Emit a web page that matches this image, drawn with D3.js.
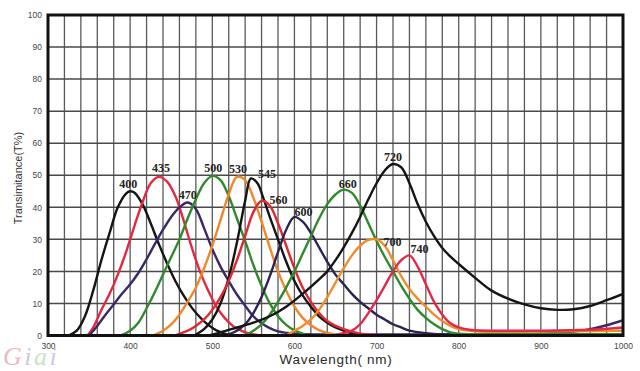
<!DOCTYPE html>
<html>
<head>
<meta charset="utf-8">
<script src="https://cdn.jsdelivr.net/npm/d3@7"></script>
<style>
  html, body { margin: 0; padding: 0; background: #fff; }
  svg { display: block; }
</style>
</head>
<body>
<div id="chart"></div>
<script>
// Tick labels
const xTicks = [300, 400, 500, 600, 700, 800, 900, 1000];
const yTicks = [0, 10, 20, 30, 40, 50, 60, 70, 80, 90, 100];
const xGridStep = 20;

// Transmittance curves, [wavelength nm, T%]
const s400 = [[325,0],[335,1.5],[345,6],[355,14],[365,23.5],[375,32],[385,40],[395,44.3],[400,45],[405,44.6],[415,41],[425,35],[435,28.5],[445,22.5],[455,17],[465,12.5],[475,8.7],[485,5.7],[495,3.3],[505,1.6],[515,0.6],[525,0]];
const s435 = [[348,0],[355,2.5],[365,8],[375,13],[385,19],[395,26],[405,34],[415,41.5],[425,47.5],[435,49.5],[445,48],[455,43.5],[465,36],[475,27.5],[485,20],[495,14],[505,9],[515,5.5],[525,3],[535,1.5],[545,0.6],[560,0]];
const s470 = [[350,0],[360,3],[370,6.5],[380,9.7],[390,13],[400,16],[410,19.5],[420,23.8],[430,28.5],[440,33],[450,37],[460,40],[470,41.5],[480,39.5],[490,33.5],[500,27],[510,21.5],[520,17],[530,12.8],[540,9.3],[550,6],[560,3.8],[570,2.3],[580,1.3],[600,0.6],[640,0.3],[700,0.3],[800,0.4],[900,0.6],[940,1.2],[960,2],[980,3.2],[1000,4.8]];
const s500 = [[388,0],[400,1.5],[410,4],[420,8.5],[430,13.5],[440,19],[450,24.5],[460,30],[470,36.5],[480,42.5],[490,47.5],[500,49.8],[510,48.5],[520,43.5],[530,36.5],[540,29.5],[550,22],[560,15.5],[570,10],[580,6],[590,3.3],[600,1.6],[610,0.6],[620,0]];
const s530 = [[428,0],[440,1.5],[450,3.5],[460,6.5],[470,10.5],[480,15],[490,21],[500,28],[510,36],[520,44],[530,49.5],[540,48.5],[550,43],[560,35.5],[570,27.5],[580,20],[590,14],[600,9],[610,5.5],[620,3.2],[630,1.7],[640,0.8],[650,0.3]];
const s545 = [[478,0],[490,2],[500,5],[510,10],[520,18],[530,29],[540,42],[547,49],[555,47.5],[562,43],[570,37],[580,30],[590,23],[600,17],[610,12.5],[620,9],[630,6],[640,4],[650,2.5],[660,1.5],[670,0.7],[685,0]];
const s560 = [[455,0],[470,1.5],[480,3],[490,5],[500,8],[510,12],[520,17],[530,23.5],[540,31],[550,38.5],[560,42],[570,40.5],[580,35],[590,28],[600,21],[610,15],[620,10.5],[630,7],[640,4.5],[650,3],[660,2],[670,1.2],[680,0.6],[700,0.2]];
const s600 = [[515,0],[530,1.5],[540,3.5],[550,7],[560,12],[570,18.5],[580,26],[590,33],[600,37],[610,35.5],[620,32],[630,27.5],[640,23],[650,19],[660,16],[670,13],[680,10.5],[690,8.5],[700,6.5],[710,5],[720,3.5],[730,2.5],[740,1.5],[760,0.7],[780,0.3],[800,0.2]];
const s660 = [[540,0],[550,1.5],[560,3.5],[570,6.5],[580,10.5],[590,15],[600,20],[610,25.5],[620,31],[630,36.5],[640,41],[650,44],[660,45.5],[670,44.5],[680,40.5],[690,35],[700,29.5],[710,24.5],[720,20],[730,15.5],[740,11.5],[750,8],[760,5.5],[770,3.5],[780,2],[790,1],[800,0.6],[850,0.4],[1000,0.4]];
const s720 = [[495,0],[510,1],[530,2.5],[550,4],[570,6],[590,9],[610,13],[630,17.5],[640,20],[650,23.5],[660,27.5],[670,32],[680,37],[690,42.5],[700,47.5],[710,51.5],[720,53.5],[730,52.5],[740,47.5],[750,41],[760,35.5],[770,31],[780,27.3],[790,24.6],[800,22.3],[820,18],[840,14],[860,11.5],[880,9.7],[900,8.5],[920,8],[940,8.2],[960,9.2],[980,11],[1000,13]];
const s700 = [[590,0],[600,1.5],[610,3],[620,5],[630,8],[640,12],[650,16.5],[660,21],[670,25],[680,28],[690,29.8],[700,30],[710,28],[720,23.5],[730,18.5],[740,14.5],[750,11.5],[760,9],[770,6.5],[780,4.5],[790,3],[800,2],[820,1.3],[900,1.2],[1000,1.5]];
const s740 = [[650,0],[660,0.8],[670,1.5],[680,3.5],[690,7],[700,11],[710,15.5],[720,20],[730,23.5],[740,25],[750,21.5],[760,16],[770,10.5],[780,6.5],[790,3.8],[800,2.5],[815,1.7],[850,1.5],[950,1.7],[1000,2.5]];

const peakLabels = ["400", "435", "470", "500", "530", "545", "560", "600", "660", "720", "700", "740"];
const seriesValues = [s400, s435, s470, s500, s530, s545, s560, s600, s660, s720, s700, s740];

// styling
const lineColors = ["#151515", "#e5283f", "#3a2868", "#2f8a2c", "#f0882a", "#151515",
                    "#e3262f", "#2c2352", "#2f8a2c", "#151515", "#f08c2c", "#e3284a"];
// label offset from the peak point, [dx, dy] in px
const labelShift = [[-2,-3],[2,-5],[0,-3],[1,-4],[1,-4],[16,0],[17,3],[9,-1],[4,-2],[0,-3],[16,7],[10,-2]];

const W = 640, H = 371;
const plot = {left: 48, right: 623, top: 15, bottom: 335.5};

const svg = d3.select("#chart").append("svg")
  .attr("width", W)
  .attr("height", H);

const x = d3.scaleLinear().domain([300, 1000]).range([plot.left, plot.right]);
const y = d3.scaleLinear().domain([0, 100]).range([plot.bottom, plot.top]);

// grid
svg.append("g")
  .selectAll("line")
  .data(d3.range(300 + xGridStep, 1000, xGridStep))
  .enter().append("line")
    .attr("x1", d => x(d)).attr("x2", d => x(d))
    .attr("y1", plot.top).attr("y2", plot.bottom)
    .attr("stroke", "#5a5a5a").attr("stroke-width", 1.3);
svg.append("g")
  .selectAll("line")
  .data(yTicks.slice(1, -1))
  .enter().append("line")
    .attr("y1", d => y(d)).attr("y2", d => y(d))
    .attr("x1", plot.left).attr("x2", plot.right)
    .attr("stroke", "#4a4a4a").attr("stroke-width", 1.5);

// axis labels
const xAxis = svg.append("g")
  .attr("transform", "translate(0," + plot.bottom + ")")
  .call(d3.axisBottom(x).tickValues(xTicks).tickFormat(d3.format("d")).tickSize(0).tickPadding(7));
const yAxis = svg.append("g")
  .attr("transform", "translate(" + (plot.left - 6) + ",0)")
  .call(d3.axisLeft(y).tickValues(yTicks).tickSize(0).tickPadding(0));
[xAxis, yAxis].forEach(a => {
  a.select(".domain").remove();
  a.selectAll("text")
    .attr("font-family", "Liberation Sans, Arial, sans-serif")
    .attr("font-size", 8.5)
    .attr("fill", "#444");
});

// curves
svg.append("clipPath").attr("id", "clip")
  .append("rect")
    .attr("x", plot.left).attr("y", plot.top)
    .attr("width", plot.right - plot.left).attr("height", plot.bottom - plot.top);

const line = d3.line()
  .x(d => x(d[0]))
  .y(d => y(d[1]))
  .curve(d3.curveCatmullRom.alpha(0.5));

svg.append("g")
  .attr("clip-path", "url(#clip)")
  .selectAll("path")
  .data(seriesValues)
  .enter().append("path")
    .attr("fill", "none")
    .attr("stroke", (d, i) => lineColors[i])
    .attr("stroke-width", 2.4)
    .attr("stroke-linejoin", "round")
    .attr("d", line);

// frame
svg.append("rect")
  .attr("x", plot.left).attr("y", plot.top)
  .attr("width", plot.right - plot.left).attr("height", plot.bottom - plot.top)
  .attr("fill", "none")
  .attr("stroke", "#111")
  .attr("stroke-width", 3);

// peak labels
svg.append("g")
  .selectAll("text")
  .data(seriesValues)
  .enter().append("text")
    .attr("x", (d, i) => x(d3.greatest(d, p => p[1])[0]) + labelShift[i][0])
    .attr("y", (d, i) => y(d3.max(d, p => p[1])) + labelShift[i][1])
    .attr("text-anchor", "middle")
    .attr("font-family", "Liberation Serif, Times New Roman, serif")
    .attr("font-weight", "bold")
    .attr("font-size", 12)
    .attr("fill", "#222")
    .text((d, i) => peakLabels[i]);

// axis titles
svg.append("text")
  .attr("x", (plot.left + plot.right) / 2 + 0.5)
  .attr("y", 364)
  .attr("text-anchor", "middle")
  .attr("font-family", "Liberation Sans, Arial, sans-serif")
  .attr("font-size", 13.5)
  .attr("letter-spacing", 0.7)
  .attr("fill", "#2a2a2a")
  .text("Wavelength( nm)");

svg.append("text")
  .attr("transform", "translate(22,178) rotate(-90)")
  .attr("text-anchor", "middle")
  .attr("font-family", "Liberation Sans, Arial, sans-serif")
  .attr("font-size", 11)
  .attr("fill", "#333")
  .text("Transimitance(T%)");

// watermark
const wm = svg.append("text")
  .attr("x", 3).attr("y", 364.5)
  .attr("font-family", "Liberation Serif, serif")
  .attr("font-style", "italic")
  .attr("font-size", 26)
  .attr("letter-spacing", 2.5)
  .attr("opacity", 0.75);
wm.append("tspan").attr("fill", "#eba0ac").text("G");
wm.append("tspan").attr("fill", "#b9b6e3").text("i");
wm.append("tspan").attr("fill", "#b4d9b0").text("a");
wm.append("tspan").attr("fill", "#b9b6e3").text("i");
</script>
</body>
</html>
